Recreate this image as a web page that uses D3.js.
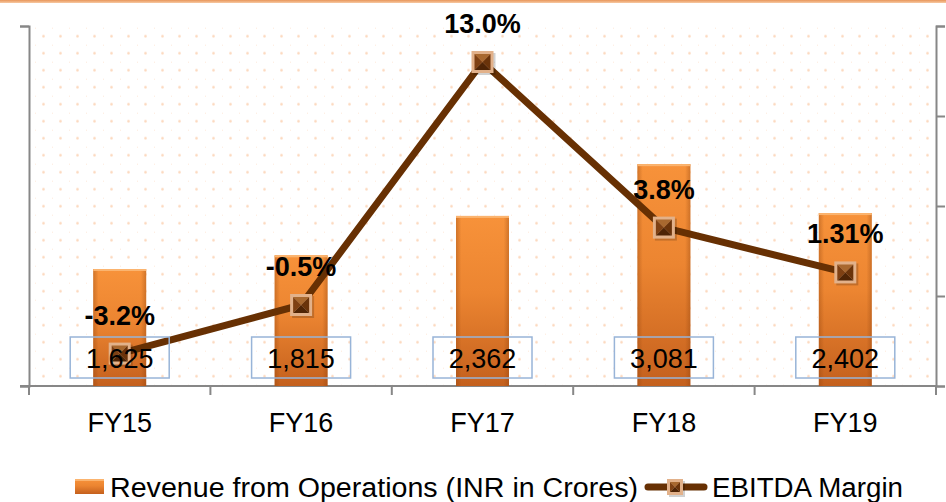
<!DOCTYPE html>
<html>
<head>
<meta charset="utf-8">
<script src="https://cdnjs.cloudflare.com/ajax/libs/d3/7.8.5/d3.min.js"></script>
<style>
  body { margin: 0; background: #fff; }
  text { font-family: "Liberation Sans", Arial, Helvetica, sans-serif; }
</style>
</head>
<body>
<div id="chart"></div>
<script>
var svgWidth = 946;
var svgHeight = 502;

// chart data
var categories = ["FY15", "FY16", "FY17", "FY18", "FY19"];
var revenue = [1625, 1815, 2362, 3081, 2402];
var revenueLabels = ["1,625", "1,815", "2,362", "3,081", "2,402"];
var ebitdaMargin = [-3.2, -0.5, 13.0, 3.8, 1.31];
var marginLabels = ["-3.2%", "-0.5%", "13.0%", "3.8%", "1.31%"];
var leftTicks = [0, 5000];
var rightTicks = [-5, 0, 5, 10, 15];

var margin = { top: 26, right: 10, bottom: 116, left: 29 };
var width = 936 - margin.left;
var height = 386 - margin.top;

var svg = d3.select("#chart")
  .append("svg")
  .attr("width", svgWidth)
  .attr("height", svgHeight);

var defs = svg.append("defs");

// dotted background pattern
var pat = defs.append("pattern")
  .attr("id", "dots")
  .attr("patternUnits", "userSpaceOnUse")
  .attr("x", 35 - margin.left)
  .attr("y", 27.7 - margin.top)
  .attr("width", 17)
  .attr("height", 17);
pat.append("rect").attr("x", -1).attr("y", -0.6).attr("width", 2).attr("height", 1.2).attr("fill", "#fbd9c0");
pat.append("circle").attr("cx", 8.5).attr("cy", 8.5).attr("r", 1.3).attr("fill", "#fcd6ba");

// bar gradients
var barGrad = defs.append("linearGradient")
  .attr("id", "barGrad").attr("x1", 0).attr("y1", 0).attr("x2", 0).attr("y2", 1);
barGrad.append("stop").attr("offset", "0%").attr("stop-color", "#f7923a");
barGrad.append("stop").attr("offset", "45%").attr("stop-color", "#ec8531");
barGrad.append("stop").attr("offset", "100%").attr("stop-color", "#c4601d");

var edgeGrad = defs.append("linearGradient")
  .attr("id", "edgeGrad").attr("x1", 0).attr("y1", 0).attr("x2", 1).attr("y2", 0);
edgeGrad.append("stop").attr("offset", "0%").attr("stop-color", "#8a3f0c").attr("stop-opacity", 0.35);
edgeGrad.append("stop").attr("offset", "10%").attr("stop-color", "#8a3f0c").attr("stop-opacity", 0);
edgeGrad.append("stop").attr("offset", "90%").attr("stop-color", "#8a3f0c").attr("stop-opacity", 0);
edgeGrad.append("stop").attr("offset", "100%").attr("stop-color", "#8a3f0c").attr("stop-opacity", 0.35);

// top orange band
var topGrad = defs.append("linearGradient")
  .attr("id", "topGrad").attr("x1", 0).attr("y1", 0).attr("x2", 0).attr("y2", 1);
topGrad.append("stop").attr("offset", "0%").attr("stop-color", "#e8965a");
topGrad.append("stop").attr("offset", "100%").attr("stop-color", "#f7c9a3");
svg.append("rect")
  .attr("x", 0).attr("y", 0)
  .attr("width", svgWidth).attr("height", 3)
  .attr("fill", "url(#topGrad)");

var chartGroup = svg.append("g")
  .attr("transform", `translate(${margin.left}, ${margin.top})`);

chartGroup.append("rect")
  .attr("width", width)
  .attr("height", height)
  .attr("fill", "url(#dots)");

// scales
var xScale = d3.scaleBand()
  .domain(categories)
  .range([0, width])
  .padding(0);

var yLeft = d3.scaleLinear()
  .domain([0, 5000])
  .range([height, 0]);

var yRight = d3.scaleLinear()
  .domain([-5, 15])
  .range([height, 0]);

var barWidth = xScale.bandwidth() * 0.292;

// axes
var axisColor = "#878787";

var leftAxis = chartGroup.append("g")
  .call(d3.axisLeft(yLeft).tickValues(leftTicks).tickSize(9).tickFormat(""));

var rightAxis = chartGroup.append("g")
  .attr("transform", `translate(${width},0)`)
  .call(d3.axisRight(yRight).tickValues(rightTicks).tickSize(9).tickFormat(""));

var bottomAxis = chartGroup.append("g")
  .attr("transform", `translate(0,${height})`)
  .call(d3.axisBottom(xScale).tickSize(0).tickPadding(27));

// boundary ticks between categories on the x axis
var bounds = d3.range(categories.length + 1).map(i => i * xScale.bandwidth());
bottomAxis.selectAll(".bound")
  .data(bounds)
  .enter()
  .append("line")
  .attr("class", "bound")
  .attr("x1", d => d).attr("x2", d => d)
  .attr("y1", 0).attr("y2", 9);

[leftAxis, rightAxis, bottomAxis].forEach(function(ax) {
  ax.selectAll("path.domain").attr("stroke", axisColor).attr("stroke-width", 2);
  ax.selectAll("line").attr("stroke", axisColor).attr("stroke-width", 2);
});
bottomAxis.select("path.domain").attr("d", `M-9,0H${width}`);

bottomAxis.selectAll(".tick text")
  .attr("font-size", "27px")
  .attr("fill", "#000")
  .attr("font-family", "'Liberation Sans', Arial, sans-serif");

// revenue bars
var bars = chartGroup.selectAll(".bar")
  .data(revenue)
  .enter()
  .append("g")
  .attr("class", "bar");

bars.append("rect")
  .attr("x", (d, i) => xScale(categories[i]) + xScale.bandwidth() / 2 - barWidth / 2)
  .attr("y", d => yLeft(d))
  .attr("width", barWidth)
  .attr("height", d => height - yLeft(d))
  .attr("fill", "url(#barGrad)");

bars.append("rect")
  .attr("x", (d, i) => xScale(categories[i]) + xScale.bandwidth() / 2 - barWidth / 2)
  .attr("y", d => yLeft(d))
  .attr("width", barWidth)
  .attr("height", d => height - yLeft(d))
  .attr("fill", "url(#edgeGrad)");

// light top edge of the bars
bars.append("rect")
  .attr("x", (d, i) => xScale(categories[i]) + xScale.bandwidth() / 2 - barWidth / 2)
  .attr("y", d => yLeft(d))
  .attr("width", barWidth)
  .attr("height", 2)
  .attr("fill", "#fbb46f");

// EBITDA margin line
var cx = (d, i) => xScale(categories[i]) + xScale.bandwidth() / 2;

var line = d3.line()
  .x((d, i) => cx(d, i))
  .y(d => yRight(d));

chartGroup.append("path")
  .datum(ebitdaMargin)
  .attr("d", line)
  .attr("fill", "none")
  .attr("stroke", "#673003")
  .attr("stroke-width", 7)
  .attr("stroke-linejoin", "round");

// bevelled square marker
function drawMarker(g, x, y, s) {
  var h = s / 2;
  var m = g.append("g").attr("transform", `translate(${x},${y})`);
  m.append("rect")
    .attr("x", -h + 2).attr("y", -h + 2)
    .attr("width", s).attr("height", s)
    .attr("fill", "#000").attr("opacity", 0.18);
  m.append("rect")
    .attr("x", -h).attr("y", -h)
    .attr("width", s).attr("height", s)
    .attr("fill", "#e2b18a");
  var k = h - 3;
  m.append("path").attr("d", `M${-k},${-k}L${k},${-k}L0,0Z`).attr("fill", "#a8682f");
  m.append("path").attr("d", `M${-k},${-k}L${-k},${k}L0,0Z`).attr("fill", "#7e4013");
  m.append("path").attr("d", `M${k},${-k}L${k},${k}L0,0Z`).attr("fill", "#6a330a");
  m.append("path").attr("d", `M${-k},${k}L${k},${k}L0,0Z`).attr("fill", "#4f2405");
}

ebitdaMargin.forEach(function(d, i) {
  drawMarker(chartGroup, cx(d, i), yRight(d), 22);
});

// revenue value labels with boxes
var boxW = 99, boxH = 41;
var labelG = chartGroup.selectAll(".rev-label")
  .data(revenueLabels)
  .enter()
  .append("g")
  .attr("class", "rev-label")
  .attr("transform", (d, i) => `translate(${cx(d, i)},${height - 28.5})`);

labelG.append("rect")
  .attr("x", -boxW / 2).attr("y", -boxH / 2)
  .attr("width", boxW).attr("height", boxH)
  .attr("fill", "none")
  .attr("stroke", "#98b4d8")
  .attr("stroke-width", 1.5);

labelG.append("text")
  .attr("text-anchor", "middle")
  .attr("y", 10)
  .attr("font-size", "27px")
  .attr("fill", "#000")
  .text(d => d);

// margin labels
chartGroup.selectAll(".margin-label")
  .data(ebitdaMargin)
  .enter()
  .append("text")
  .attr("class", "margin-label")
  .attr("x", (d, i) => cx(d, i))
  .attr("y", d => yRight(d) - 29)
  .attr("text-anchor", "middle")
  .attr("font-size", "27px")
  .attr("font-weight", "bold")
  .attr("fill", "#000")
  .text((d, i) => marginLabels[i]);

// legend
var legend = svg.append("g");

legend.append("rect")
  .attr("x", 75).attr("y", 479)
  .attr("width", 29).attr("height", 15)
  .attr("fill", "url(#barGrad)");
legend.append("rect")
  .attr("x", 75).attr("y", 479)
  .attr("width", 29).attr("height", 2)
  .attr("fill", "#fbb46f");

legend.append("text")
  .attr("x", 110).attr("y", 497)
  .attr("font-size", "27px")
  .attr("fill", "#000")
  .attr("textLength", 528)
  .attr("lengthAdjust", "spacingAndGlyphs")
  .text("Revenue from Operations (INR in Crores)");

legend.append("line")
  .attr("x1", 648).attr("x2", 704)
  .attr("y1", 487).attr("y2", 487)
  .attr("stroke", "#673003")
  .attr("stroke-width", 7)
  .attr("stroke-linecap", "round");

drawMarker(legend, 675, 487, 16);

legend.append("text")
  .attr("x", 712).attr("y", 497)
  .attr("font-size", "27px")
  .attr("fill", "#000")
  .attr("textLength", 191)
  .attr("lengthAdjust", "spacingAndGlyphs")
  .text("EBITDA Margin");
</script>
</body>
</html>
